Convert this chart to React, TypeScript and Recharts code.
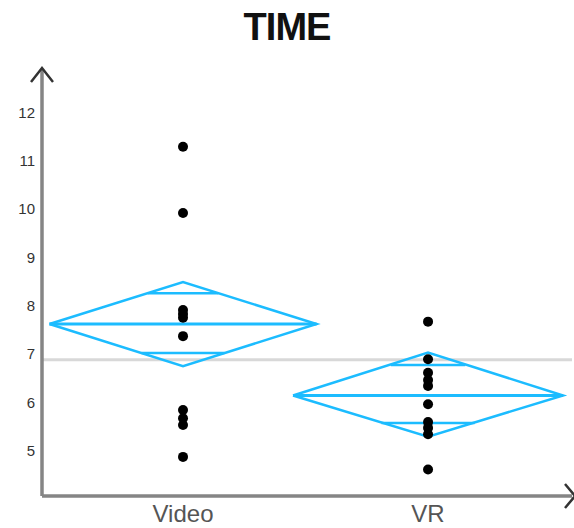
import React from 'react';
import { ComposedChart, XAxis, YAxis, Scatter, Line, ReferenceLine } from 'recharts';

// values
const categories = ['Video', 'VR'];
const videoTimes = [11.29, 9.92, 7.91, 7.83, 7.75, 7.37, 5.84, 5.67, 5.53, 4.87];
const vrTimes = [7.67, 6.89, 6.61, 6.46, 6.34, 5.96, 5.59, 5.47, 5.34, 4.61];
const groupMeans = [7.62, 6.14];
const ciLow = [6.75, 5.29];
const ciHigh = [8.49, 7.03];
const diamondHalfWidth = [0.545, 0.551];
const overlapHigh = [8.26, 6.77];
const overlapLow = [7.02, 5.57];
const grandMean = 6.88;
const yTicks = [5, 6, 7, 8, 9, 10, 11, 12];

const W = 574;
const H = 528;
const BLUE = '#1cbcff';

const diamond = (i: number) => {
    const cx = i + 1;
    const hw = diamondHalfWidth[i];
    return [
        { x: cx - hw, y: groupMeans[i] },
        { x: cx, y: ciHigh[i] },
        { x: cx + hw, y: groupMeans[i] },
        { x: cx, y: ciLow[i] },
        { x: cx - hw, y: groupMeans[i] },
    ];
};

const hLine = (i: number, v: number) => {
    const cx = i + 1;
    const half = (ciHigh[i] - ciLow[i]) / 2;
    const w = diamondHalfWidth[i] * (1 - Math.abs(v - groupMeans[i]) / half);
    return [{ x: cx - w, y: v }, { x: cx + w, y: v }];
};

const points = [videoTimes, vrTimes].map((arr, i) => arr.map(v => ({ x: i + 1, y: v })));

const Dot = (props: any) => <circle cx={props.cx} cy={props.cy} r={5} fill="#000" />;

export default function App() {
    return (
        <div style={{ position: 'absolute', left: 0, top: 0, width: W, height: H, background: '#fff', fontFamily: '"Liberation Sans", Arial, sans-serif' }}>
            <div style={{ position: 'absolute', left: 0, width: W, top: 6, textAlign: 'center', fontSize: 38, fontWeight: 900, color: '#111', letterSpacing: -1 }}>
                TIME
            </div>
            <ComposedChart width={W} height={H} margin={{ top: 70, right: 2, bottom: 0, left: 0 }}>
                <XAxis
                    type="number"
                    dataKey="x"
                    domain={[0.4245, 2.5875]}
                    allowDataOverflow
                    ticks={[1, 2]}
                    tickFormatter={(v: number) => categories[v - 1]}
                    height={32}
                    tickLine={false}
                    tickSize={0}
                    tickMargin={9}
                    axisLine={{ stroke: '#858585', strokeWidth: 3.5 }}
                    tick={{ fill: '#555', fontSize: 24 }}
                />
                <YAxis
                    type="number"
                    dataKey="y"
                    domain={[4.06, 12.88]}
                    allowDataOverflow
                    ticks={yTicks}
                    width={42}
                    tickLine={false}
                    tickSize={0}
                    tickMargin={7}
                    axisLine={{ stroke: '#858585', strokeWidth: 3.5 }}
                    tick={{ fill: '#333', fontSize: 15 }}
                />
                <ReferenceLine y={grandMean} stroke="#d8d8d8" strokeWidth={3} />
                {[0, 1].map(i => (
                    <Line key={'d' + i} data={diamond(i)} dataKey="y" stroke={BLUE} strokeWidth={2.5} dot={false} isAnimationActive={false} />
                ))}
                {[0, 1].map(i => (
                    <Line key={'m' + i} data={hLine(i, groupMeans[i])} dataKey="y" stroke={BLUE} strokeWidth={3} dot={false} isAnimationActive={false} />
                ))}
                {[0, 1].map(i => (
                    <Line key={'oh' + i} data={hLine(i, overlapHigh[i])} dataKey="y" stroke={BLUE} strokeWidth={2.5} dot={false} isAnimationActive={false} />
                ))}
                {[0, 1].map(i => (
                    <Line key={'ol' + i} data={hLine(i, overlapLow[i])} dataKey="y" stroke={BLUE} strokeWidth={2.5} dot={false} isAnimationActive={false} />
                ))}
                {points.map((p, i) => (
                    <Scatter key={'s' + i} data={p} dataKey="y" shape={Dot} isAnimationActive={false} />
                ))}
            </ComposedChart>
            <svg width={W} height={H} style={{ position: 'absolute', left: 0, top: 0, pointerEvents: 'none' }}>
                <polyline points="31,82 42,68 53,82" fill="none" stroke="#333" strokeWidth={2.5} />
                <polyline points="565,484 575,496 565,508" fill="none" stroke="#333" strokeWidth={2.5} />
            </svg>
        </div>
    );
}
